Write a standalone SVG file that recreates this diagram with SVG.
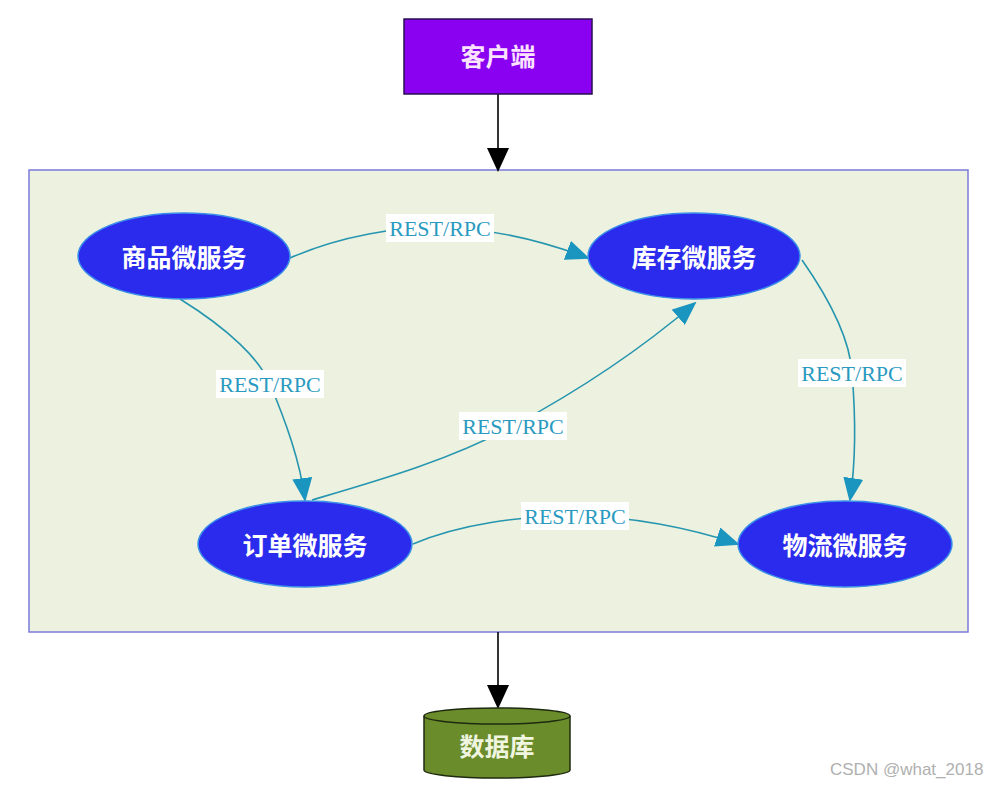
<svg xmlns="http://www.w3.org/2000/svg" width="996" height="786" viewBox="0 0 996 786">
<style>
.cjk{font-family:"Noto Sans CJK SC","Noto Sans CJK JP",sans-serif;font-weight:bold;font-size:25px;fill:#ffffff;text-anchor:middle;dominant-baseline:central}
.ell{fill:#2b2bee;stroke:#3a8fe8;stroke-width:1.5}
.edge{fill:none;stroke:#2696b0;stroke-width:1.6}
.lbl{font-family:"Liberation Serif",serif;font-size:22px;fill:#2a9ac0;text-anchor:middle;dominant-baseline:central}
.lblbg{fill:#ffffff}
.blk{fill:none;stroke:#000;stroke-width:1.6}
</style>
<defs>
<marker id="ba" markerWidth="24" markerHeight="22" refX="22" refY="11" orient="auto" markerUnits="userSpaceOnUse" viewBox="0 0 24 22">
<path d="M0,0 L24,11 L0,22 Z" fill="#000"/>
</marker>
<marker id="tb" markerWidth="24" markerHeight="20" refX="22" refY="10" orient="auto" markerUnits="userSpaceOnUse" viewBox="0 0 24 20">
<path d="M0,0 L24,10 L0,20 Z" fill="#1a95c0"/>
</marker>
</defs>
<rect width="996" height="786" fill="#ffffff"/>
<g id="cluster">
<rect x="29" y="170" width="939" height="462" fill="#edf1df" stroke="#7b7bdc" stroke-width="1.5"/>
</g>
<g id="connectors">
<line class="blk" x1="498" y1="94" x2="498" y2="170" marker-end="url(#ba)"/>
<line class="blk" x1="498" y1="632" x2="498" y2="707" marker-end="url(#ba)"/>
<path class="edge" d="M290,258 C340,236 400,226 440,228 C490,228 540,240 588,258" marker-end="url(#tb)"/>
<path class="edge" d="M180,299 C230,330 260,360 270,384 C285,420 300,460 305,500" marker-end="url(#tb)"/>
<path class="edge" d="M312,500 C380,480 450,460 513,426 C580,390 640,350 695,303" marker-end="url(#tb)"/>
<path class="edge" d="M802,260 C830,300 850,340 852,373 C856,420 856,460 850,500" marker-end="url(#tb)"/>
<path class="edge" d="M413,544 C460,524 520,516 575,516 C630,516 690,528 738,544" marker-end="url(#tb)"/>
<rect class="lblbg" x="386" y="214" width="108" height="28"/>
<text class="lbl" x="440" y="228">REST/RPC</text>
<rect class="lblbg" x="216" y="370" width="108" height="28"/>
<text class="lbl" x="270" y="384">REST/RPC</text>
<rect class="lblbg" x="459" y="412" width="108" height="28"/>
<text class="lbl" x="513" y="426">REST/RPC</text>
<rect class="lblbg" x="798" y="359" width="108" height="28"/>
<text class="lbl" x="852" y="373">REST/RPC</text>
<rect class="lblbg" x="521" y="502" width="108" height="28"/>
<text class="lbl" x="575" y="516">REST/RPC</text>
</g>
<g id="client">
<rect x="404" y="19" width="188" height="75" fill="#8a00f0" stroke="#2a1050" stroke-width="1.5"/>
<text class="cjk" x="498" y="55" style="fill:#fbe3ff">客户端</text>
</g>
<g id="goods">
<ellipse class="ell" cx="184" cy="256" rx="106" ry="43"/>
<text class="cjk" x="184" y="256">商品微服务</text>
</g>
<g id="stock">
<ellipse class="ell" cx="694" cy="256" rx="106" ry="43"/>
<text class="cjk" x="694" y="256">库存微服务</text>
</g>
<g id="order">
<ellipse class="ell" cx="305" cy="544" rx="107" ry="43"/>
<text class="cjk" x="305" y="544">订单微服务</text>
</g>
<g id="logistics">
<ellipse class="ell" cx="845" cy="544" rx="107" ry="43"/>
<text class="cjk" x="845" y="544">物流微服务</text>
</g>
<g id="database">
<path d="M424,716 L424,770 A73,8 0 0 0 570,770 L570,716 A73,8 0 0 0 424,716 Z" fill="#6b8c2a" stroke="#1e2a10" stroke-width="1.5"/>
<path d="M424,716 A73,8 0 0 0 570,716" fill="none" stroke="#1e2a10" stroke-width="1.5"/>
<text class="cjk" x="497" y="745" style="fill:#f0f5e0">数据库</text>
</g>
<text x="830" y="769" font-family="Liberation Sans, sans-serif" font-size="17" fill="#b0b0b0" dominant-baseline="central">CSDN @what_2018</text>
</svg>
